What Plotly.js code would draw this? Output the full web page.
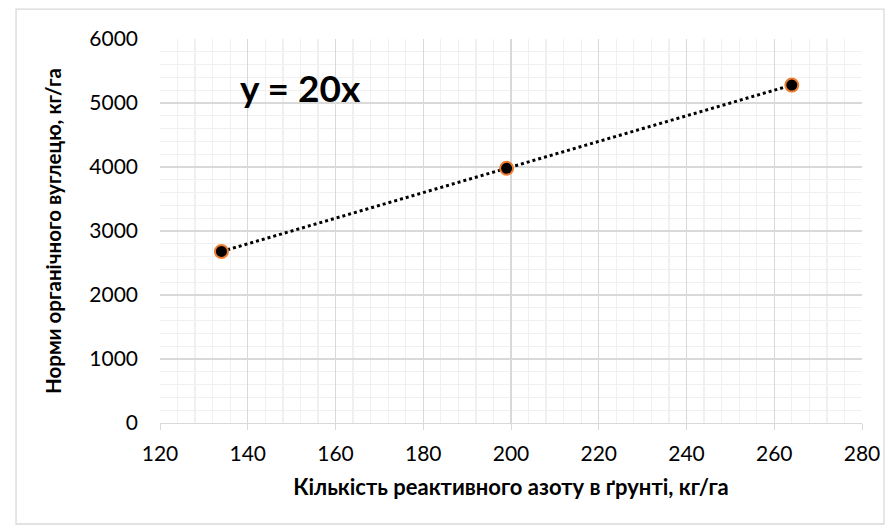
<!DOCTYPE html>
<html>
<head>
<meta charset="utf-8">
<script src="https://cdn.plot.ly/plotly-3.0.1.min.js"></script>
<style>
html,body{margin:0;padding:0;background:#fff;}
#chart{width:892px;height:532px;}
</style>
</head>
<body>
<div id="chart"></div>
<script>
// Data
const nitrogen = [134, 199, 264];          // кг/га
const carbonNorm = [2680, 3980, 5280];     // кг/га
const trendX = [134, 264];
const trendY = [2680, 5280];
const equationText = 'y = 20x';
const xTitle = 'Кількість реактивного азоту в ґрунті, кг/га';
const yTitle = 'Норми органічного вуглецю, кг/га';

const FONT = 'Lato, "Open Sans", "Noto Sans", sans-serif';

const traces = [
  {
    x: trendX, y: trendY, type: 'scatter', mode: 'lines',
    line: {color: '#000000', width: 3, dash: 'dot'},
    hoverinfo: 'skip', showlegend: false
  },
  {
    x: nitrogen, y: carbonNorm, type: 'scatter', mode: 'markers',
    marker: {color: '#000000', size: 13, line: {color: '#ED7D31', width: 2}},
    showlegend: false
  }
];

const layout = {
  width: 892, height: 532,
  margin: {l: 160, r: 30, t: 39, b: 109},
  paper_bgcolor: '#ffffff', plot_bgcolor: '#ffffff',
  font: {family: FONT, color: '#000000', size: 21},
  xaxis: {
    range: [120, 280], dtick: 20, tick0: 120,
    showgrid: true, gridcolor: '#d9d9d9', gridwidth: 1.3,
    minor: {dtick: 4, showgrid: true, gridcolor: '#f0f0f0', gridwidth: 1.3},
    showline: true, linecolor: '#d9d9d9', linewidth: 1.3,
    ticks: 'outside', ticklen: 6, tickcolor: '#d9d9d9',
    ticklabelstandoff: 5,
    zeroline: false,
    tickfont: {size: 21, family: FONT, color: '#000'},
    title: {text: xTitle, font: {size: 22, family: FONT, weight: 'bold', color: '#000'}, standoff: 16}
  },
  yaxis: {
    range: [0, 6000], dtick: 1000,
    showgrid: true, gridcolor: '#d9d9d9', gridwidth: 1.3,
    minor: {dtick: 200, showgrid: true, gridcolor: '#f0f0f0', gridwidth: 1.3},
    showline: false, ticks: '', zeroline: false,
    ticklabelstandoff: 21,
    tickfont: {size: 21, family: FONT, color: '#000'},
    title: {text: yTitle, font: {size: 20.5, family: FONT, weight: 'bold', color: '#000'}, standoff: 22}
  },
  annotations: [{
    x: 152, y: 5250, xref: 'x', yref: 'y', text: equationText,
    showarrow: false, font: {size: 37, family: FONT, weight: 'bold', color: '#000'}
  }],
  shapes: [{
    type: 'rect', xref: 'paper', yref: 'paper',
    x0: -0.2051, x1: 1.0313, y0: -0.263, y1: 1.078,
    line: {color: '#d9d9d9', width: 1.3}, layer: 'below'
  }]
};

Plotly.newPlot('chart', traces, layout, {displayModeBar: false, staticPlot: true});
</script>
</body>
</html>
